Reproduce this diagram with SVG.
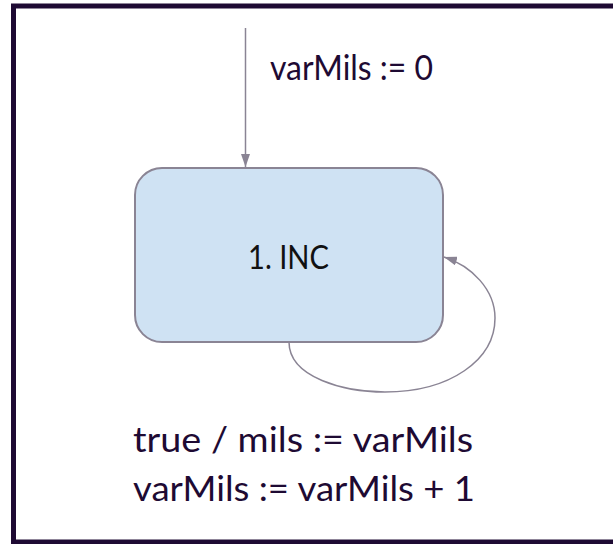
<svg xmlns="http://www.w3.org/2000/svg" width="613" height="544" viewBox="0 0 613 544">
  <style>
    .frame { fill: #ffffff; stroke: #1e0a33; stroke-width: 5; }
    .state { fill: #cfe2f3; stroke: #8a8494; stroke-width: 2; }
    .edge { fill: none; stroke: #8a8494; stroke-width: 1.5; }
    .label { font-family: Lato, "Liberation Sans", sans-serif; font-size: 34px; fill: #1e0a33; }
    .name { font-family: Lato, "Liberation Sans", sans-serif; font-size: 33px; fill: #111111; }
  </style>
  <defs>
    <marker id="arrowTall" viewBox="0 0 10 10" refX="10" refY="5" markerWidth="13" markerHeight="9" markerUnits="userSpaceOnUse" orient="auto" preserveAspectRatio="none">
      <path d="M0,0 L10,5 L0,10 z" fill="#8a8494"/>
    </marker>
  </defs>

  <rect class="frame" x="13.5" y="6" width="640" height="536"/>

  <g id="state-inc">
    <rect class="state" x="135" y="168" width="308" height="174" rx="27" ry="27"/>
    <text class="name" x="248" y="269" textLength="81" lengthAdjust="spacingAndGlyphs">1. INC</text>
  </g>

  <g id="connectors">
    <g id="initial">
      <line class="edge" x1="245.5" y1="28" x2="245.5" y2="167" marker-end="url(#arrowTall)"/>
      <text class="label" x="270" y="80" textLength="163" lengthAdjust="spacingAndGlyphs">varMils := 0</text>
    </g>
    <g id="self-loop">
      <path class="edge" d="M289,342 C289,378 345,392 385,392 C450,392 495,360 495,318 C495,290 472,266 444,257" marker-end="url(#arrowTall)"/>
      <text class="label" x="133" y="452" textLength="340" lengthAdjust="spacingAndGlyphs">true / mils := varMils</text>
      <text class="label" x="133" y="501" textLength="342" lengthAdjust="spacingAndGlyphs">varMils := varMils + 1</text>
    </g>
  </g>
</svg>
